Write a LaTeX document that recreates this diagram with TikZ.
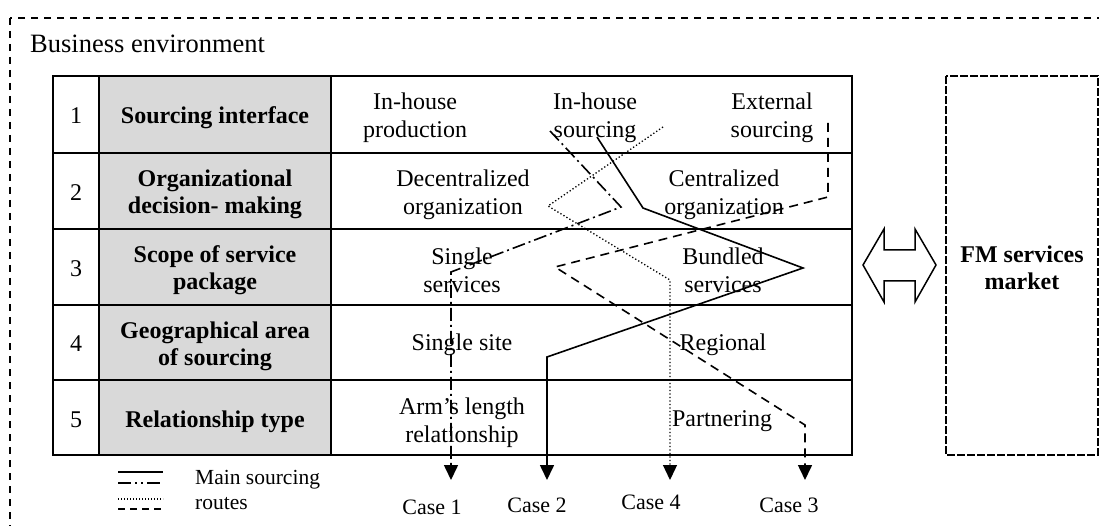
\documentclass[tikz,border=0pt]{standalone}
\usepackage{fontspec}
\setmainfont{Liberation Serif}
\usetikzlibrary{arrows.meta}
\definecolor{cellgray}{HTML}{D9D9D9}
\begin{document}
\begin{tikzpicture}[x=1pt,y=-1pt,
  grid/.style={line width=2pt},
  route/.style={line width=1.6pt},
  routeA/.style={route, dash pattern=on 13pt off 4pt on 2pt off 4pt},
  routeB/.style={route},
  routeC/.style={route, dash pattern=on 9pt off 6pt},
  routeD/.style={route, line width=1.3pt, dash pattern=on 1.3pt off 2.2pt},
  tip/.style={-{Triangle[width=14pt,length=15pt]}},
  cell/.style={font=\fontsize{24}{28}\selectfont, align=center, inner sep=0pt},
  head/.style={font=\fontsize{24}{27}\selectfont\bfseries, align=center, inner sep=0pt},
  casetext/.style={font=\fontsize{22}{26}\selectfont, inner sep=0pt},
  legline/.style={line width=1.6pt}]
\clip (0,0) rectangle (1099,526);
\useasboundingbox (0,0) rectangle (1099,526);

% business environment frame
\draw[line width=1.5pt, dash pattern=on 7pt off 6pt] (10,18) rectangle (1120,560);
\node[anchor=base west, inner sep=0pt, font=\fontsize{26.5}{30}\selectfont] (env) at (30,53) {Business environment};

% table
\fill[cellgray] (99,76) rectangle (331,455);
\draw[grid] (53,76) rectangle (852,455);
\foreach \y in {153,229,305,380} \draw[grid] (53,\y) -- (852,\y);
\draw[grid] (99,76) -- (99,455);
\draw[grid] (331,76) -- (331,455);

% row numbers
\node[cell] (n1) at (76,116) {1};
\node[cell] (n2) at (76,193) {2};
\node[cell] (n3) at (76,269) {3};
\node[cell] (n4) at (76,344) {4};
\node[cell] (n5) at (76,420) {5};

% dimensions
\node[head] (h1) at (215,118) {Sourcing interface};
\node[head] (h2) at (215,194.5) {Organizational\\decision- making};
\node[head] (h3) at (215,270.5) {Scope of service\\package};
\node[head] (h4) at (215,346) {Geographical area\\of sourcing};
\node[head] (h5) at (215,421.5) {Relationship type};

% options
\node[cell] (o11) at (415,118) {In-house\\production};
\node[cell] (o12) at (595,118) {In-house\\sourcing};
\node[cell] (o13) at (772,118) {External\\sourcing};
\node[cell] (o21) at (463,194.5) {Decentralized\\organization};
\node[cell] (o22) at (724,194.5) {Centralized\\organization};
\node[cell] (o31) at (462,270.5) {Single\\services};
\node[cell] (o32) at (723,270.5) {Bundled\\services};
\node[cell] (o41) at (462,345) {Single site};
\node[cell] (o42) at (723,345) {Regional};
\node[cell] (o51) at (462,423) {Arm’s length\\relationship};
\node[cell] (o52) at (722,421) {Partnering};

% FM services market
\draw[line width=2.5pt, dash pattern=on 8pt off 2pt] (946,76) rectangle (1098,455);
\node[head] (fm) at (1022,268) {FM services\\market};

% two-way exchange arrow
\draw[line width=1.5pt, line join=miter] (863,265) -- (884,229) -- (884,250) -- (915,250) -- (915,229)
  -- (936,265) -- (915,302) -- (915,281) -- (884,281) -- (884,302) -- cycle;

% case labels
\node[casetext] (case1) at (432,507) {Case 1};
\node[casetext] (case2) at (537,505) {Case 2};
\node[casetext] (case4) at (651,502) {Case 4};
\node[casetext] (case3) at (789,505) {Case 3};

% route waypoints
\coordinate (a1) at (550,131); \coordinate (a2) at (621,207); \coordinate (a3) at (451,272); \coordinate (a4) at (451,480);
\coordinate (b1) at (597,137); \coordinate (b2) at (643,208); \coordinate (b3) at (803,268); \coordinate (b4) at (547,357); \coordinate (b5) at (547,480);
\coordinate (c1) at (828,123); \coordinate (c2) at (828,197); \coordinate (c3) at (555,267); \coordinate (c4) at (805,425); \coordinate (c5) at (805,480);
\coordinate (d1) at (663,127); \coordinate (d2) at (548,206); \coordinate (d3) at (670,280); \coordinate (d4) at (670,480);

% routes
\draw[routeA, tip] (a1) -- (a2) -- (a3) -- (a4);
\draw[routeB, tip] (b1) -- (b2) -- (b3) -- (b4) -- (b5);
\draw[routeC, tip] (c1) -- (c2) -- (c3) -- (c4) -- (c5);
\draw[routeD, tip] (d1) -- (d2) -- (d3) -- (d4);

% legend
\coordinate (l1a) at (118,472); \coordinate (l1b) at (163,472);
\coordinate (l2a) at (118,483); \coordinate (l2b) at (163,483);
\coordinate (l3a) at (118,499); \coordinate (l3b) at (163,499);
\coordinate (l4a) at (118,509); \coordinate (l4b) at (163,509);
\draw[legline] (l1a) -- (l1b);
\draw[legline, dash pattern=on 13pt off 4pt on 2pt off 4pt on 2pt off 4pt] (l2a) -- (l2b);
\draw[line width=1.2pt, dash pattern=on 1.2pt off 1.8pt] (l3a) -- (l3b);
\draw[legline, dash pattern=on 7pt off 5pt] (l4a) -- (l4b);
\node[anchor=west, align=left, inner sep=0pt, font=\fontsize{21.5}{25}\selectfont] (legtext) at (195,490) {Main sourcing\\routes};
\end{tikzpicture}
\end{document}
